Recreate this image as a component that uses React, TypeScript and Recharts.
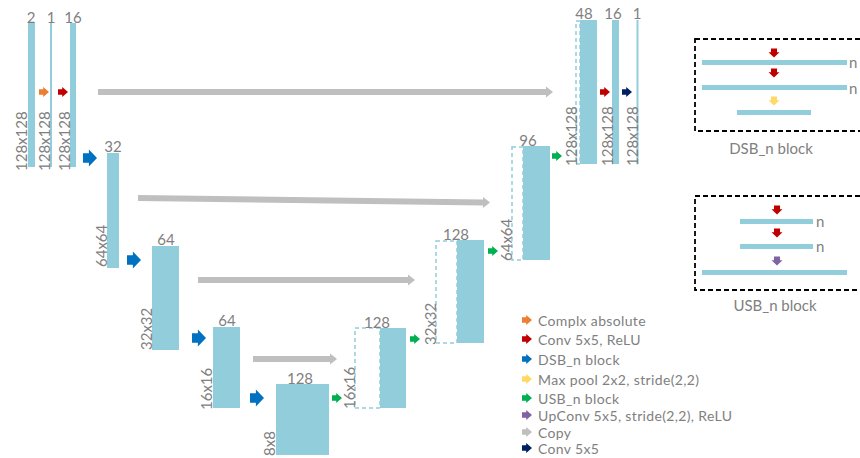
import React from 'react';
import { ScatterChart, Scatter, XAxis, YAxis, ReferenceArea, ReferenceLine } from 'recharts';

// ---------- data (diagram units: x 0..860, y 0..458 top-down) ----------
const featureMaps = [
  { x0: 28, x1: 35, y0: 23, y1: 167 },
  { x0: 50, x1: 52, y0: 23, y1: 167 },
  { x0: 70, x1: 76, y0: 23, y1: 167 },
  { x0: 107, x1: 119, y0: 153, y1: 268 },
  { x0: 152, x1: 179, y0: 246, y1: 350 },
  { x0: 213, x1: 240, y0: 327, y1: 408 },
  { x0: 276, x1: 329, y0: 384, y1: 455 },
  { x0: 380, x1: 406, y0: 328, y1: 408 },
  { x0: 457, x1: 484, y0: 240, y1: 343 },
  { x0: 523, x1: 550, y0: 146, y1: 260 },
  { x0: 580, x1: 597, y0: 20, y1: 164 },
  { x0: 612, x1: 619, y0: 20, y1: 164 },
  { x0: 636.5, x1: 638.5, y0: 20, y1: 164 },
];

const copiedMaps = [
  { x0: 355, x1: 380, y0: 328, y1: 408 },
  { x0: 436, x1: 457, y0: 241, y1: 343 },
  { x0: 512, x1: 523, y0: 147, y1: 260 },
  { x0: 576, x1: 580, y0: 21, y1: 164 },
];

const channelLabels = [
  { x: 31, y: 23, text: '2' },
  { x: 51, y: 23, text: '1' },
  { x: 73, y: 23, text: '16' },
  { x: 113, y: 152, text: '32' },
  { x: 166, y: 245, text: '64' },
  { x: 227, y: 326, text: '64' },
  { x: 300, y: 384, text: '128' },
  { x: 377, y: 328, text: '128' },
  { x: 456, y: 240, text: '128' },
  { x: 528, y: 146, text: '96' },
  { x: 584, y: 19, text: '48' },
  { x: 613, y: 19, text: '16' },
  { x: 637, y: 19, text: '1' },
];

const sizeLabels = [
  { x: 21, y: 171, text: '128x128' },
  { x: 44, y: 171, text: '128x128' },
  { x: 64, y: 171, text: '128x128' },
  { x: 101, y: 267, text: '64x64' },
  { x: 146, y: 350, text: '32x32' },
  { x: 206, y: 410, text: '16x16' },
  { x: 269, y: 456, text: '8x8' },
  { x: 349, y: 409, text: '16x16' },
  { x: 430, y: 345, text: '32x32' },
  { x: 506, y: 261, text: '64x64' },
  { x: 571, y: 166, text: '128x128' },
  { x: 607, y: 166, text: '128x128' },
  { x: 632, y: 166, text: '128x128' },
];

const flowArrows = [
  { x: 44, y: 92, op: 'abs' },
  { x: 63, y: 92, op: 'conv' },
  { x: 90, y: 158, op: 'dsb' },
  { x: 134, y: 260, op: 'dsb' },
  { x: 199, y: 338, op: 'dsb' },
  { x: 257, y: 398, op: 'dsb' },
  { x: 337, y: 398, op: 'usb' },
  { x: 415, y: 339, op: 'usb' },
  { x: 493, y: 251, op: 'usb' },
  { x: 557, y: 156, op: 'usb' },
  { x: 605, y: 92, op: 'conv' },
  { x: 627, y: 92, op: 'out' },
];

const copyArrows = [
  { x0: 98, y0: 92, x1: 553, y1: 92 },
  { x0: 138, y0: 198, x1: 490, y1: 202.5 },
  { x0: 198, y0: 280, x1: 415, y1: 280 },
  { x0: 253, y0: 359, x1: 337, y1: 359 },
];

const frames = [
  { x0: 695, x1: 861, y0: 39, y1: 131 },
  { x0: 695, x1: 861, y0: 196, y1: 290 },
];

const frameTitles = [
  { x: 771, y: 148, text: 'DSB_n block' },
  { x: 775, y: 305, text: 'USB_n block' },
];

const frameBars = [
  { x0: 702, x1: 847, y0: 60, y1: 65 },
  { x0: 702, x1: 847, y0: 85, y1: 90 },
  { x0: 737, x1: 811, y0: 110, y1: 115 },
  { x0: 740, x1: 813, y0: 219, y1: 224 },
  { x0: 740, x1: 813, y0: 244, y1: 249 },
  { x0: 702, x1: 847, y0: 270, y1: 275 },
];

const frameArrows = [
  { x: 774, y: 53, op: 'conv' },
  { x: 774, y: 73, op: 'conv' },
  { x: 774, y: 101, op: 'pool' },
  { x: 777, y: 210, op: 'conv' },
  { x: 777, y: 233, op: 'conv' },
  { x: 777, y: 261, op: 'upconv' },
];

const frameN = [
  { x: 849, y: 62, text: 'n' },
  { x: 849, y: 88, text: 'n' },
  { x: 816, y: 221, text: 'n' },
  { x: 816, y: 246, text: 'n' },
];

const legendItems = [
  { x: 527, y: 320, op: 'abs', text: 'Complx absolute' },
  { x: 527, y: 339, op: 'conv', text: 'Conv 5x5, ReLU' },
  { x: 527, y: 359, op: 'dsb', text: 'DSB_n block' },
  { x: 527, y: 379, op: 'pool', text: 'Max pool 2x2, stride(2,2)' },
  { x: 527, y: 398, op: 'usb', text: 'USB_n block' },
  { x: 527, y: 415, op: 'upconv', text: 'UpConv 5x5, stride(2,2), ReLU' },
  { x: 527, y: 432, op: 'copy', text: 'Copy' },
  { x: 527, y: 448, op: 'out', text: 'Conv 5x5' },
];

// ---------- styles ----------
const FONT = "Lato, 'Open Sans', sans-serif";
const BLOCK = '#92CDDC';
const TEXT = '#808080';
const OP_COLORS: Record<string, string> = {
  abs: '#ED7D31',
  conv: '#C00000',
  dsb: '#0070C0',
  pool: '#FFD966',
  usb: '#00B050',
  upconv: '#8064A2',
  copy: '#BFBFBF',
  out: '#002060',
};

function arrowPoints(cx: number, cy: number, w: number, h: number) {
  const sh = h * 0.55;
  const hs = cx - w / 2 + w * 0.42;
  const pts = [
    [cx - w / 2, cy - sh / 2],
    [hs, cy - sh / 2],
    [hs, cy - h / 2],
    [cx + w / 2, cy],
    [hs, cy + h / 2],
    [hs, cy + sh / 2],
    [cx - w / 2, cy + sh / 2],
  ];
  return pts.map((p) => p.join(',')).join(' ');
}

const FlowArrow = (props: any) => {
  const { cx, cy, payload } = props;
  const big = payload.op === 'dsb';
  const w = big ? 14 : 10;
  const h = big ? 17 : 10;
  return <polygon points={arrowPoints(cx, cy, w, h)} fill={OP_COLORS[payload.op]} />;
};

const DownArrow = (props: any) => {
  const { cx, cy, payload } = props;
  return (
    <polygon
      points={arrowPoints(cx, cy, 9, 11)}
      fill={OP_COLORS[payload.op]}
      transform={`rotate(90 ${cx} ${cy})`}
    />
  );
};

const ChannelText = (props: any) => {
  const { cx, cy, payload } = props;
  return (
    <text x={cx} y={cy} textAnchor="middle" fontFamily={FONT} fontSize={15} fill={TEXT}>
      {payload.text}
    </text>
  );
};

const SizeText = (props: any) => {
  const { cx, cy, payload } = props;
  return (
    <text
      transform={`translate(${cx},${cy}) rotate(-90)`}
      x={0}
      y={0}
      textAnchor="start"
      dominantBaseline="central"
      fontFamily={FONT}
      fontSize={15}
      fill={TEXT}
    >
      {payload.text}
    </text>
  );
};

const CenterText = (props: any) => {
  const { cx, cy, payload } = props;
  return (
    <text x={cx} y={cy} textAnchor="middle" dominantBaseline="central" fontFamily={FONT} fontSize={15} fill={TEXT}>
      {payload.text}
    </text>
  );
};

const NText = (props: any) => {
  const { cx, cy, payload } = props;
  return (
    <text x={cx} y={cy} textAnchor="start" dominantBaseline="central" fontFamily={FONT} fontSize={15} fill={TEXT}>
      {payload.text}
    </text>
  );
};

const CopyHead = (props: any) => {
  const { cx, cy, payload } = props;
  const ang = (Math.atan2(payload.y1 - payload.y0, payload.x1 - payload.x0) * 180) / Math.PI;
  return (
    <polygon
      points={`${cx},${cy} ${cx - 7},${cy - 5.5} ${cx - 7},${cy + 5.5}`}
      fill={OP_COLORS.copy}
      transform={`rotate(${ang} ${cx} ${cy})`}
    />
  );
};

const LegendRow = (props: any) => {
  const { cx, cy, payload } = props;
  return (
    <g>
      <polygon points={arrowPoints(cx, cy, 10, 10)} fill={OP_COLORS[payload.op]} />
      <text
        x={cx + 11}
        y={cy}
        dominantBaseline="central"
        fontFamily={FONT}
        fontSize={14}
        letterSpacing={0.35}
        fill={TEXT}
      >
        {payload.text}
      </text>
    </g>
  );
};

export default function App() {
  const copyHeads = copyArrows.map((a) => ({ ...a, x: a.x1, y: a.y1 }));
  return (
    <div style={{ position: 'absolute', left: 0, top: 0, width: 860, height: 458, background: '#fff' }}>
      <ScatterChart width={860} height={458} margin={{ top: 0, right: 0, bottom: 0, left: 0 }}>
        <XAxis type="number" dataKey="x" domain={[0, 860]} allowDataOverflow hide />
        <YAxis type="number" dataKey="y" domain={[0, 458]} reversed allowDataOverflow hide />

        {frames.map((f, i) => (
          <ReferenceArea
            key={`fr${i}`}
            x1={f.x0}
            x2={f.x1}
            y1={f.y0}
            y2={f.y1}
            fill="none"
            stroke="#000"
            strokeWidth={1.8}
            strokeDasharray="5 3"
            ifOverflow="visible"
          />
        ))}
        {frameBars.map((b, i) => (
          <ReferenceArea key={`fb${i}`} x1={b.x0} x2={b.x1} y1={b.y0} y2={b.y1} fill={BLOCK} fillOpacity={1} stroke="none" ifOverflow="visible" />
        ))}

        {copyArrows.map((a, i) => {
          const len = Math.hypot(a.x1 - a.x0, a.y1 - a.y0);
          const ex = a.x1 - ((a.x1 - a.x0) / len) * 6.5;
          const ey = a.y1 - ((a.y1 - a.y0) / len) * 6.5;
          return (
            <ReferenceLine
              key={`cp${i}`}
              segment={[{ x: a.x0, y: a.y0 }, { x: ex, y: ey }]}
              stroke={OP_COLORS.copy}
              strokeWidth={6}
              ifOverflow="visible"
            />
          );
        })}

        {copiedMaps.map((b, i) => (
          <ReferenceArea
            key={`cm${i}`}
            x1={b.x0}
            x2={b.x1}
            y1={b.y0}
            y2={b.y1}
            fill="none"
            stroke={BLOCK}
            strokeWidth={1.5}
            strokeDasharray="4 3"
            ifOverflow="visible"
          />
        ))}
        {featureMaps.map((b, i) => (
          <ReferenceArea key={`fm${i}`} x1={b.x0} x2={b.x1} y1={b.y0} y2={b.y1} fill={BLOCK} fillOpacity={1} stroke="none" ifOverflow="visible" />
        ))}

        <Scatter data={copyHeads} shape={CopyHead} isAnimationActive={false} />
        <Scatter data={flowArrows} shape={FlowArrow} isAnimationActive={false} />
        <Scatter data={frameArrows} shape={DownArrow} isAnimationActive={false} />
        <Scatter data={channelLabels} shape={ChannelText} isAnimationActive={false} />
        <Scatter data={sizeLabels} shape={SizeText} isAnimationActive={false} />
        <Scatter data={frameTitles} shape={CenterText} isAnimationActive={false} />
        <Scatter data={frameN} shape={NText} isAnimationActive={false} />
        <Scatter data={legendItems} shape={LegendRow} isAnimationActive={false} />
      </ScatterChart>
    </div>
  );
}
